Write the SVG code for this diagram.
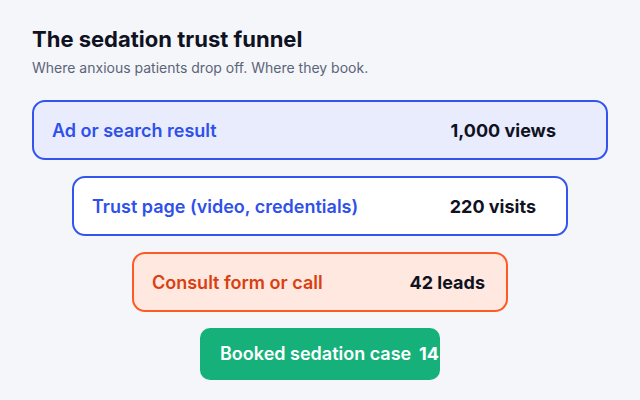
<svg xmlns="http://www.w3.org/2000/svg" width="640" height="400" viewBox="0 0 640 400">
<style>
text{font-family:Inter,"Liberation Sans",sans-serif}
.title{font-size:22px;font-weight:700;fill:#0f1222}
.sub{font-size:14px;font-weight:400;fill:#5b6478}
.lbl{font-size:18px;font-weight:600}
.val{font-size:18px;font-weight:700;fill:#10131f;text-anchor:end}
.blue{fill:#2f50ea}
.orange{fill:#d9400f}
.white{fill:#ffffff}
</style>
<rect width="640" height="400" fill="#f5f6fa"/>
<text class="title" x="32" y="47">The sedation trust funnel</text>
<text class="sub" x="32" y="73">Where anxious patients drop off. Where they book.</text>
<g id="stage-ad">
<rect x="33" y="101" width="574" height="58" rx="12" fill="#e8ecfd" stroke="#3354ee" stroke-width="2"/>
<text class="lbl blue" x="52" y="137">Ad or search result</text>
<text class="val" x="556" y="137">1,000 views</text>
</g>
<g id="stage-trust">
<rect x="73" y="177" width="494" height="58" rx="12" fill="#ffffff" stroke="#3354ee" stroke-width="2"/>
<text class="lbl blue" x="92" y="213">Trust page (video, credentials)</text>
<text class="val" x="536" y="213">220 visits</text>
</g>
<g id="stage-consult">
<rect x="133" y="253" width="374" height="58" rx="12" fill="#ffe8df" stroke="#ff5a24" stroke-width="2"/>
<text class="lbl orange" x="152" y="289">Consult form or call</text>
<text class="val" x="485" y="289">42 leads</text>
</g>
<g id="stage-booked">
<rect x="200" y="328" width="240" height="52" rx="10" fill="#16b17a"/>
<text class="lbl white" x="220" y="360" font-weight="700">Booked sedation case</text>
<text class="val white" x="439" y="360">14</text>
</g>
<g id="connectors"/>
</svg>
